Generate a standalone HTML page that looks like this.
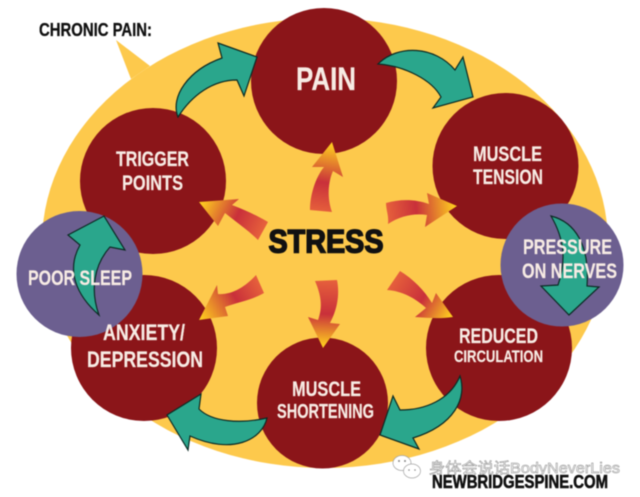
<!DOCTYPE html>
<html><head><meta charset="utf-8"><style>
html,body{margin:0;padding:0;background:#fff;width:640px;height:497px;overflow:hidden}
svg{display:block;filter:blur(.5px)}
text{font-family:"Liberation Sans","Noto Sans CJK SC",sans-serif;font-weight:bold}
.w{fill:#f7ebe4;stroke:#f7ebe4;stroke-width:.2}
.k{fill:#111;stroke:#111}
.t{fill:#2aa68c;stroke:#0c2a24;stroke-width:1.2;stroke-linejoin:miter}
</style></head><body>
<svg width="640" height="497" viewBox="0 0 640 497" xmlns="http://www.w3.org/2000/svg">
<defs>
<linearGradient id="g1" gradientUnits="userSpaceOnUse" x1="262" y1="232" x2="199" y2="202"><stop offset="0" stop-color="#e6603c"/><stop offset=".42" stop-color="#c9303a"/><stop offset=".95" stop-color="#fcc820"/></linearGradient>
<linearGradient id="g2" gradientUnits="userSpaceOnUse" x1="321" y1="212" x2="332" y2="142"><stop offset="0" stop-color="#e6603c"/><stop offset=".42" stop-color="#c9303a"/><stop offset=".95" stop-color="#fcc820"/></linearGradient>
<linearGradient id="g3" gradientUnits="userSpaceOnUse" x1="387" y1="213" x2="457" y2="206"><stop offset="0" stop-color="#e6603c"/><stop offset=".42" stop-color="#c9303a"/><stop offset=".95" stop-color="#fcc820"/></linearGradient>
<linearGradient id="g4" gradientUnits="userSpaceOnUse" x1="260" y1="284" x2="199" y2="320"><stop offset="0" stop-color="#e6603c"/><stop offset=".4" stop-color="#c9303a"/><stop offset=".95" stop-color="#fcc820"/></linearGradient>
<linearGradient id="g5" gradientUnits="userSpaceOnUse" x1="326" y1="280" x2="323" y2="348"><stop offset="0" stop-color="#e6603c"/><stop offset=".5" stop-color="#c9303a"/><stop offset=".95" stop-color="#fcc820"/></linearGradient>
<linearGradient id="g6" gradientUnits="userSpaceOnUse" x1="393" y1="280" x2="453" y2="317"><stop offset="0" stop-color="#e6603c"/><stop offset=".5" stop-color="#c9303a"/><stop offset=".95" stop-color="#fcc820"/></linearGradient>
</defs>
<rect width="640" height="497" fill="#fff"/>
<ellipse cx="325" cy="243" rx="283" ry="225" fill="#fdc94c"/>
<polygon points="116,40 150,66 131,79" fill="#fdc94c"/>

<g fill="#8b1519">
<circle cx="324" cy="81" r="73"/>
<circle cx="153" cy="181" r="73"/>
<circle cx="505.500" cy="166" r="73"/>
<circle cx="499" cy="348" r="73"/>
<circle cx="322.500" cy="403" r="65.500"/>
<circle cx="144" cy="348" r="73"/>
</g>

<!-- stress arrows -->
<path fill="url(#g1)" d="M199 202 L239 199 L232 205 C245 210 258 216 268 222 L258 240 C248 230 236 222 225 213 L218 226 Z"/>
<path fill="url(#g2)" d="M332 142 L343 177 L333 171 C328 182 327 198 332 212 L310 210 C310 196 315 178 324 167 L312 167 Z"/>
<path fill="url(#g3)" d="M457 206 L425 227 L427 215 C414 213 400 216 388 224 C389 216 386 210 386 203 C400 199 415 199 429 204 L427 193 Z"/>
<path fill="url(#g4)" d="M199 320 L217 285 L218 294 C232 295 245 287 256 275 L264 293 C252 300 238 302 225 307 L228 316 Z"/>
<path fill="url(#g5)" d="M315 281 L337 280 C340 295 337 310 330 323 L340 324 L323 348 L308 317 L318 320 C323 307 321 295 315 281 Z"/>
<path fill="url(#g6)" d="M400 271 C413 279 424 290 432 303 L436 293 L453 317 C440 319 428 318 415 317 L426 308 C415 298 402 291 387 290 Z"/>

<!-- teal arrows on ring -->
<path class="t" d="M178 117 C170 97 188 70 222 58 L218 43 L257 57 L244 96 L237 80 C213 80 192 95 178 117 Z"/>
<path class="t" d="M378 64 C398 44 435 46 455 70 L463 57 L473 97 L433 108 L441 97 C432 80 405 66 378 64 Z"/>
<path class="t" d="M460 376 C467 398 455 425 413 438 L419 449 L380 435 L393 396 L400 410 C425 410 450 400 460 376 Z"/>
<path class="t" d="M267 418 C262 440 232 455 190 436 L188 450 L167 415 L201 394 L199 409 C212 422 240 424 267 418 Z"/>

<!-- purple circles -->
<circle cx="79.500" cy="274" r="63" fill="#6c5f90"/>
<circle cx="562" cy="265" r="61.500" fill="#6c5f90"/>
<path class="t" d="M99 315 C76 295 66 270 80 245 L68 235 L104 216 L125 250 L110 247 C94 265 90 290 99 315 Z"/>
<path class="t" d="M551 216 C575 222 590 245 587 286 L599 287 L569 315 L541 286 L558 285 C566 262 565 240 551 216 Z"/>

<!-- labels -->
<text class="k" stroke-width=".3" x="39" y="36" font-size="18" textLength="113" lengthAdjust="spacingAndGlyphs">CHRONIC PAIN:</text>
<text class="w" x="296" y="90" font-size="32" textLength="60" lengthAdjust="spacingAndGlyphs">PAIN</text>
<text class="w" x="116" y="166" font-size="21" textLength="73" lengthAdjust="spacingAndGlyphs">TRIGGER</text>
<text class="w" x="122" y="190" font-size="21" textLength="61" lengthAdjust="spacingAndGlyphs">POINTS</text>
<text class="w" x="473" y="161" font-size="21" textLength="69" lengthAdjust="spacingAndGlyphs">MUSCLE</text>
<text class="w" x="473" y="184" font-size="21" textLength="70" lengthAdjust="spacingAndGlyphs">TENSION</text>
<text class="w" x="523" y="254" font-size="21" textLength="89" lengthAdjust="spacingAndGlyphs">PRESSURE</text>
<text class="w" x="522" y="278" font-size="21" textLength="95" lengthAdjust="spacingAndGlyphs">ON NERVES</text>
<text class="w" x="28" y="285" font-size="21" textLength="104" lengthAdjust="spacingAndGlyphs">POOR SLEEP</text>
<text class="w" x="103" y="340" font-size="22" textLength="82" lengthAdjust="spacingAndGlyphs">ANXIETY/</text>
<text class="w" x="87" y="367" font-size="22" textLength="116" lengthAdjust="spacingAndGlyphs">DEPRESSION</text>
<text class="w" x="459" y="343" font-size="21" textLength="79" lengthAdjust="spacingAndGlyphs">REDUCED</text>
<text class="w" x="454" y="362" font-size="17" textLength="89" lengthAdjust="spacingAndGlyphs">CIRCULATION</text>
<text class="w" x="292" y="396" font-size="21" textLength="69" lengthAdjust="spacingAndGlyphs">MUSCLE</text>
<text class="w" x="277" y="418" font-size="20" textLength="97" lengthAdjust="spacingAndGlyphs">SHORTENING</text>
<text class="k" stroke-width="1.5" x="268.500" y="252.500" font-size="32" textLength="115" lengthAdjust="spacingAndGlyphs">STRESS</text>

<!-- watermark -->
<g fill="#fff" stroke="#a5a5a5" stroke-width=".7">
<ellipse cx="402" cy="463" rx="9" ry="7.500"/>
<ellipse cx="412" cy="471" rx="8.500" ry="7"/>
</g>
<circle cx="399" cy="461" r="1" fill="#888"/><circle cx="405" cy="461" r="1" fill="#888"/>
<circle cx="409" cy="470" r=".8" fill="#888"/><circle cx="415" cy="470" r=".8" fill="#888"/>
<text x="429" y="473" font-size="15" textLength="191" lengthAdjust="spacingAndGlyphs" fill="#fff" stroke="#8a8a8a" stroke-width=".5" style="font-weight:normal">身体会说话BodyNeverLies</text>
<text class="k" stroke-width=".6" x="432" y="488" font-size="18" textLength="176" lengthAdjust="spacingAndGlyphs">NEWBRIDGESPINE.COM</text>
</svg>
</body></html>
